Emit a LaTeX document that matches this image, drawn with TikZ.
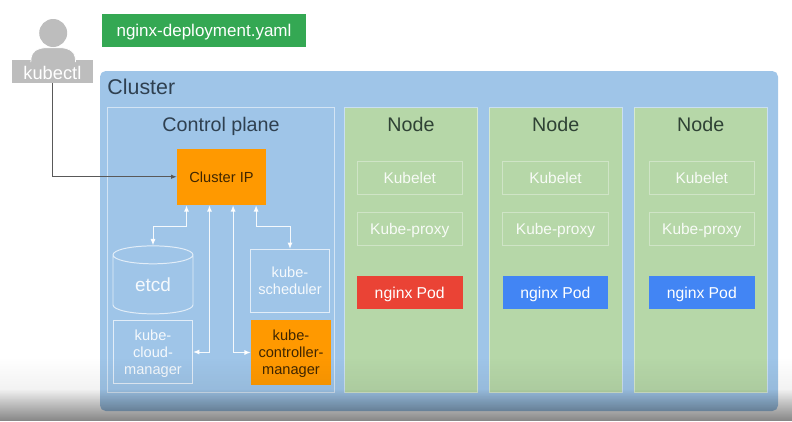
\documentclass[tikz,border=0pt]{standalone}
\usepackage{fontspec}
\setmainfont{Liberation Sans}
\usetikzlibrary{arrows.meta, shapes.geometric, fadings}
\definecolor{clusterblue}{HTML}{9FC5E8}
\definecolor{nodegreen}{HTML}{B6D7A8}
\definecolor{podblue}{HTML}{4285F4}
\definecolor{podred}{HTML}{EA4335}
\definecolor{yamlgreen}{HTML}{34A853}
\definecolor{ctrlorange}{HTML}{FF9900}
\definecolor{usergray}{HTML}{BDBDBD}
\definecolor{titleblue}{HTML}{2F4050}
\definecolor{titlegreen}{HTML}{2F4235}
\tikzfading[name=fadefloor, top color=transparent!100, bottom color=transparent!58]
\tikzfading[name=fadewide, top color=transparent!100, bottom color=transparent!90]

\begin{document}
\begin{tikzpicture}[
  planeb/.style={draw=white, draw opacity=0.55, line width=0.6pt, minimum width=5.675cm, minimum height=7.1125cm},
  nodeb/.style={draw=white, draw opacity=0.45, fill=nodegreen, line width=0.6pt, minimum width=3.325cm, minimum height=7.125cm},
  compb/.style={draw=white, draw opacity=0.7, line width=0.7pt, text=white, text opacity=0.9, font=\fontsize{10.4}{12.2}\selectfont,
                minimum width=1.98cm, minimum height=1.58cm, align=center, inner sep=0pt, text depth=0pt},
  orangeb/.style={fill=ctrlorange, text=black!75!ctrlorange, font=\fontsize{10.4}{12.2}\selectfont,
                  minimum width=2.0cm, minimum height=1.625cm, align=center, inner sep=0pt, text depth=0pt},
  agentb/.style={draw=white, draw opacity=0.35, line width=0.6pt, text=white, text opacity=0.9, font=\fontsize{11}{13}\selectfont,
                 minimum width=2.64cm, minimum height=0.825cm, inner sep=0pt, text height=8pt, text depth=0pt},
  podb/.style={text=white, font=\fontsize{11.2}{13}\selectfont, minimum width=2.64cm, minimum height=0.825cm, inner sep=0pt,
               text height=8pt, text depth=0pt},
  titleb/.style={text=titleblue, font=\fontsize{14}{16}\selectfont, inner sep=0pt, text height=10pt, text depth=0pt},
  arr/.style={{Latex[length=1.6mm,width=1.3mm]}-{Latex[length=1.6mm,width=1.3mm]}, draw=white, draw opacity=0.9, line width=0.7pt},
]
\useasboundingbox (0,0) rectangle (19.8,10.525);

% Cluster background
\node[fill=clusterblue, rounded corners=4pt, minimum width=16.95cm, minimum height=8.5cm, inner sep=0pt] (cluster) at (10.975, 4.5) {};
\node[titleb, anchor=west, font=\fontsize{15.2}{18}\selectfont] (cluster_t) at (2.68, 8.35) {Cluster};

% User and manifest
\node[fill=usergray, minimum width=2.025cm, minimum height=0.575cm, inner sep=0pt] (kubectl) at (1.31, 8.7375) {};
\fill[usergray, draw=white, line width=0.5pt, rounded corners=3pt] (0.77, 8.97) -- (0.79, 9.2) -- (1.0, 9.33) -- (1.66, 9.33) -- (1.87, 9.2) -- (1.89, 8.97);
\node[text=white, font=\fontsize{13}{15}\selectfont, inner sep=0pt] (kubectl_t) at (1.31, 8.7) {kubectl};
\node[circle, fill=usergray, minimum size=0.7cm, inner sep=0pt] (head) at (1.33, 9.7) {};
\node[fill=yamlgreen, text=white, font=\fontsize{12.1}{14}\selectfont, minimum width=5.1cm, minimum height=0.825cm, inner sep=0pt,
      text height=8.6pt, text depth=0pt] (yaml) at (5.1, 9.76) {nginx-deployment.yaml};

% Control plane
\node[planeb] (plane) at (5.525, 4.281) {};
\node[titleb] (plane_t) at (5.525, 7.425) {Control plane};
\node[orangeb, minimum width=2.225cm, minimum height=1.4125cm] (ip) at (5.5375, 6.106) {Cluster IP};
\node[compb, cylinder, shape border rotate=90, shape aspect=0.5, minimum width=2.0cm, minimum height=1.7cm,
      font=\fontsize{13.5}{16}\selectfont] (etcd) at (3.825, 3.41) {etcd};
\node[compb] (sched) at (7.25, 3.5) {kube-\\scheduler};
\node[compb] (cloud) at (3.825, 1.725) {kube-\\cloud-\\manager};
\node[orangeb] (ctrl) at (7.275, 1.7125) {kube-\\controller-\\manager};

% Nodes
\node[nodeb] (node_a) at (10.275, 4.275) {};
\node[nodeb] (node_b) at (13.894, 4.275) {};
\node[nodeb] (node_c) at (17.519, 4.275) {};
\node[titleb, text=titlegreen] (node_at) at (10.275, 7.425) {Node};
\node[titleb, text=titlegreen] (node_bt) at (13.894, 7.425) {Node};
\node[titleb, text=titlegreen] (node_ct) at (17.519, 7.425) {Node};

\node[agentb] (kubelet_a) at (10.244, 6.081) {Kubelet};
\node[agentb] (kubelet_b) at (13.8875, 6.081) {Kubelet};
\node[agentb] (kubelet_c) at (17.544, 6.081) {Kubelet};
\node[agentb] (proxy_a) at (10.244, 4.8125) {Kube-proxy};
\node[agentb] (proxy_b) at (13.8875, 4.8125) {Kube-proxy};
\node[agentb] (proxy_c) at (17.544, 4.8125) {Kube-proxy};
\node[podb, fill=podred] (pod_a) at (10.244, 3.2125) {nginx Pod};
\node[podb, fill=podblue] (pod_b) at (13.8875, 3.2125) {nginx Pod};
\node[podb, fill=podblue] (pod_c) at (17.544, 3.2125) {nginx Pod};

% Arrows
\draw[-{Latex[length=1.4mm,width=1.1mm]}, draw=black!65, line width=0.6pt] ([xshift=-0.01cm]kubectl.south) |- (ip.west);
\draw[arr] ([xshift=-0.875cm]ip.south) -- ++(0,-0.525) -| (etcd.north);
\draw[arr] ([xshift=-0.3cm]ip.south) |- (cloud.east);
\draw[arr] ([xshift=0.29cm]ip.south) |- (ctrl.west);
\draw[arr] ([xshift=0.865cm]ip.south) -- ++(0,-0.525) -| (sched.north);

% Floor shadow over the lower edge
\fill[black, path fading=fadewide] (0, 0) rectangle (19.8, 1.6);
\fill[black, path fading=fadefloor] (0, 0) rectangle (19.8, 0.8);
\end{tikzpicture}
\end{document}
